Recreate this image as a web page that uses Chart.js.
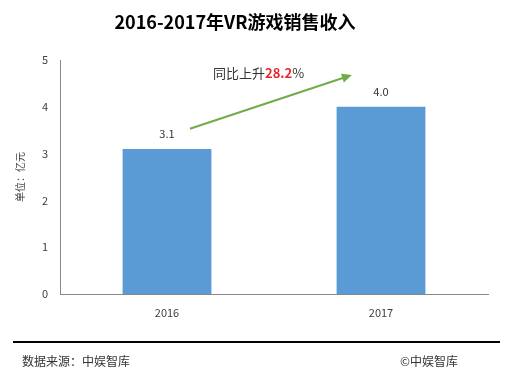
<!DOCTYPE html>
<html>
<head>
<meta charset="utf-8">
<script src="https://cdn.jsdelivr.net/npm/chart.js@4/dist/chart.umd.min.js"></script>
<style>
  html, body { margin: 0; padding: 0; background: #fff; }
  #wrap { width: 511px; height: 369px; position: relative; }
</style>
</head>
<body>
<div id="wrap"><canvas id="vrChart" width="511" height="369"></canvas></div>
<script>
// données
const years = ['2016', '2017'];
const revenue = [3.1, 4.0];
const yTicks = [0, 1, 2, 3, 4, 5];
const growthLabel = ['同比上升', '28.2', '%'];

const FONT = '"Noto Sans CJK SC", "Noto Sans", sans-serif';

// titre, étiquettes, flèche et pied de page
const decorPlugin = {
    id: 'decor',
    afterDraw(chart) {
        const ctx = chart.ctx;
        const xs = chart.scales.x;
        const ys = chart.scales.y;
        ctx.save();

        // titre
        ctx.fillStyle = '#000';
        ctx.font = 'bold 18px ' + FONT;
        ctx.textAlign = 'center';
        ctx.textBaseline = 'middle';
        ctx.fillText('2016-2017年VR游戏销售收入', 235, 22);

        // valeurs au-dessus des barres
        ctx.font = '11px ' + FONT;
        ctx.fillStyle = '#333';
        chart.getDatasetMeta(0).data.forEach(function (bar, i) {
            ctx.fillText(revenue[i].toFixed(1), bar.x, bar.y - 15);
        });

        // flèche de croissance
        const x1 = xs.getPixelForValue(0.107), y1 = ys.getPixelForValue(3.53);
        const x2 = xs.getPixelForValue(0.864), y2 = ys.getPixelForValue(4.68);
        ctx.strokeStyle = '#70AD47';
        ctx.fillStyle = '#70AD47';
        ctx.lineWidth = 2;
        const ang = Math.atan2(y2 - y1, x2 - x1);
        ctx.beginPath();
        ctx.moveTo(x1, y1);
        ctx.lineTo(x2 - 8 * Math.cos(ang), y2 - 8 * Math.sin(ang));
        ctx.stroke();
        ctx.beginPath();
        ctx.moveTo(x2, y2);
        ctx.lineTo(x2 - 10 * Math.cos(ang) + 4.5 * Math.sin(ang), y2 - 10 * Math.sin(ang) - 4.5 * Math.cos(ang));
        ctx.lineTo(x2 - 10 * Math.cos(ang) - 4.5 * Math.sin(ang), y2 - 10 * Math.sin(ang) + 4.5 * Math.cos(ang));
        ctx.closePath();
        ctx.fill();

        // texte "同比上升28.2%"
        let tx = xs.getPixelForValue(0.215);
        const ty = ys.getPixelForValue(4.72);
        ctx.textAlign = 'left';
        ctx.font = '13px ' + FONT;
        ctx.fillStyle = '#333';
        ctx.fillText(growthLabel[0], tx, ty);
        tx += ctx.measureText(growthLabel[0]).width;
        ctx.font = 'bold 13px ' + FONT;
        ctx.fillStyle = '#E8262B';
        ctx.fillText(growthLabel[1], tx, ty);
        tx += ctx.measureText(growthLabel[1]).width;
        ctx.font = '13px ' + FONT;
        ctx.fillStyle = '#333';
        ctx.fillText(growthLabel[2], tx, ty);

        // pied de page
        ctx.strokeStyle = '#000';
        ctx.lineWidth = 2;
        ctx.beginPath();
        ctx.moveTo(13, 342);
        ctx.lineTo(500, 342);
        ctx.stroke();
        ctx.font = '12px ' + FONT;
        ctx.fillStyle = '#333';
        ctx.fillText('数据来源：中娱智库', 22, 361);
        ctx.fillText('©中娱智库', 400, 361);

        ctx.restore();
    }
};

const canvas = document.getElementById('vrChart');
if (canvas) {
    new Chart(canvas.getContext('2d'), {
        type: 'bar',
        data: {
            labels: years,
            datasets: [{
                data: revenue,
                backgroundColor: '#5B9BD5',
                borderWidth: 0,
                barPercentage: 0.83,
                categoryPercentage: 0.5
            }]
        },
        options: {
            responsive: false,
            animation: false,
            layout: { padding: { left: 0, right: 23, top: 60, bottom: 0 } },
            plugins: {
                legend: { display: false },
                tooltip: { enabled: false }
            },
            scales: {
                y: {
                    min: 0,
                    max: 5,
                    afterBuildTicks: function (s) { s.ticks = yTicks.map(v => ({ value: v })); },
                    afterFit: function (s) { s.width = 60; },
                    grid: { display: false, drawTicks: false },
                    border: { color: '#888', width: 1 },
                    ticks: { color: '#404040', font: { size: 11, family: FONT }, padding: 12 },
                    title: {
                        display: true,
                        text: '单位：亿元',
                        color: '#404040',
                        font: { size: 10, family: FONT },
                        padding: { top: 14, bottom: 0 }
                    }
                },
                x: {
                    afterFit: function (s) { s.height = 369 - 60 - 234; },
                    grid: { display: false, drawTicks: false },
                    border: { color: '#888', width: 1 },
                    ticks: { color: '#404040', font: { size: 11, family: FONT }, padding: 12 }
                }
            }
        },
        plugins: [decorPlugin]
    });
} else {
    console.error("Element vrChart introuvable.");
}
</script>
</body>
</html>
